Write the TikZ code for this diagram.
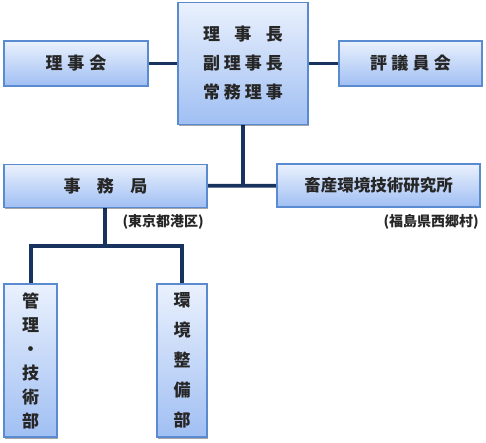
\documentclass[tikz,border=0pt]{standalone}
\usepackage{fontspec}
\setmainfont{Noto Sans CJK JP}
\usetikzlibrary{shadows}
\pgfdeclarelayer{background}
\pgfsetlayers{background,main}
\definecolor{boxtop}{HTML}{EAF1FD}
\definecolor{boxbot}{HTML}{A0BFF3}
\definecolor{boxline}{HTML}{5A8AD0}
\definecolor{conn}{HTML}{17335E}
\definecolor{txt}{HTML}{262626}
\tikzset{
  orgbox/.style={draw=boxline, line width=1.2pt, top color=boxtop, bottom color=boxbot,
    inner sep=0pt, text=txt, font=\fontsize{17}{17}\selectfont\bfseries,
    drop shadow={shadow xshift=1.2pt, shadow yshift=-1.5pt, fill=black, opacity=0.35}},
  connector/.style={draw=conn, line width=3.8pt},
  addr/.style={text=txt, font=\fontsize{14}{14}\selectfont\bfseries, inner sep=0pt}
}
\begin{document}
\begin{tikzpicture}[x=1pt,y=-1pt]
\useasboundingbox (0,0) rectangle (486,443);
% junction coordinates
\coordinate (j1) at (243,185);
\coordinate (j2) at (105,246);
\coordinate (jl) at (31,246);
\coordinate (jr) at (182,246);
% boxes
\node[orgbox, minimum width=144pt, minimum height=45pt] (rijikai) at (76,63.5) {理\hspace{5pt}事\hspace{5pt}会};
\node[orgbox, minimum width=130pt, minimum height=122pt, align=center,
  font=\fontsize{17}{29}\selectfont\bfseries] (top) at (243,63.5)
  {理\hspace{14.5pt}事\hspace{14.5pt}長\\副\hspace{4pt}理\hspace{4pt}事\hspace{4pt}長\\常\hspace{4pt}務\hspace{4pt}理\hspace{4pt}事};
\node[orgbox, minimum width=143pt, minimum height=45pt] (hyogi) at (410.5,63.5) {評\hspace{4.3pt}議\hspace{4.3pt}員\hspace{4.3pt}会};
\node[orgbox, minimum width=203pt, minimum height=43pt] (jimu) at (105.5,186) {事\hspace{16.5pt}務\hspace{16.5pt}局};
\node[orgbox, minimum width=203pt, minimum height=43pt, font=\fontsize{16.5}{16.5}\selectfont\bfseries] (kenkyu) at (378.5,185.5) {畜産環境技術研究所};
\node[orgbox, minimum width=53pt, minimum height=153pt, align=center,
  font=\fontsize{17}{24}\selectfont\bfseries] (kanri) at (30.5,360.5) {管\\理\\・\\技\\術\\部};
\node[orgbox, minimum width=50pt, minimum height=153pt, align=center,
  font=\fontsize{17}{30}\selectfont\bfseries] (kankyo) at (182,360.5) {環\\境\\整\\備\\部};
% labels
\node[addr, anchor=east] (addr1) at (204,222) {(東京都港区)};
\node[addr, anchor=east] (addr2) at (479,222) {(福島県西郷村)};
% connectors
\begin{pgfonlayer}{background}
\draw[connector] (rijikai.center) -- (top.center);
\draw[connector] (top.center) -- (hyogi.center);
\draw[connector] (top.center -| j1) -- (j1);
\draw[connector] (jimu.center) -- (kenkyu.center);
\draw[connector] (jimu.center -| j2) -- (j2);
\draw[connector, line join=miter] (kanri.center -| jl) -- (jl) -- (jr) -- (kankyo.center -| jr);
\end{pgfonlayer}
\end{tikzpicture}
\end{document}
